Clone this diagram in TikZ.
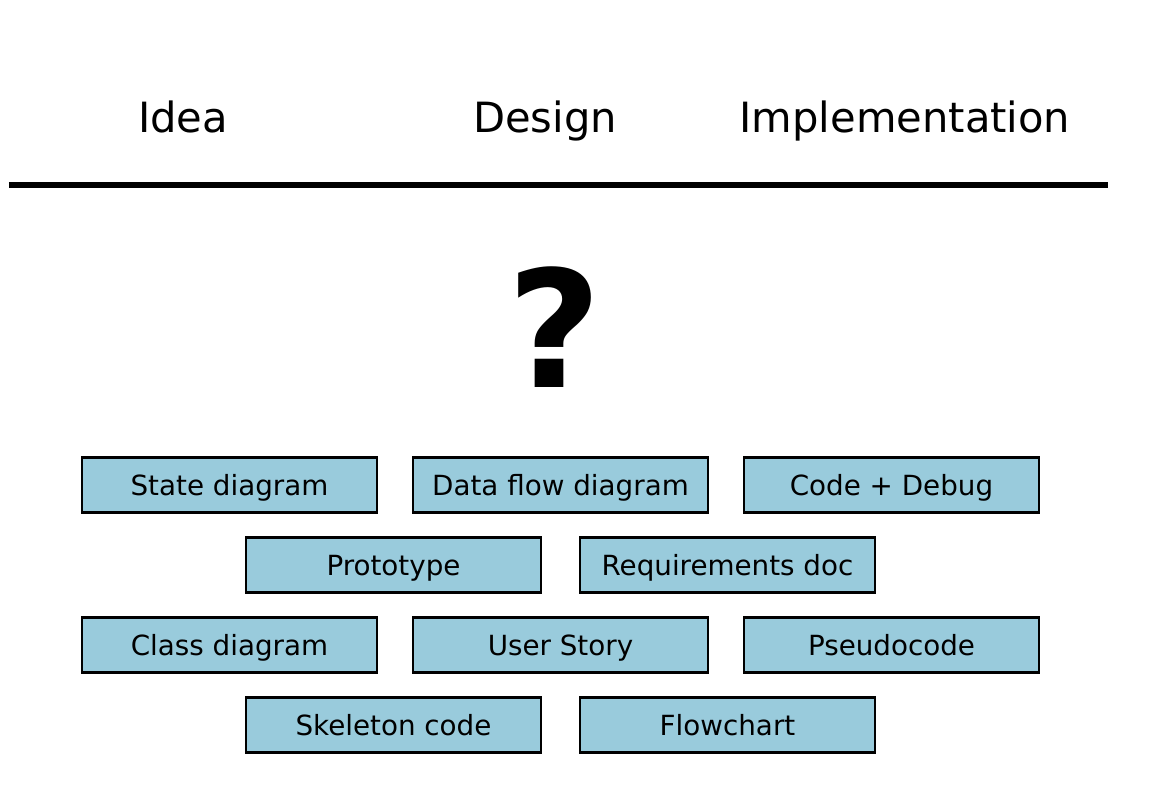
\documentclass[tikz,border=0pt]{standalone}
\usepackage{fontspec}
\setmainfont{DejaVu Sans}

\begin{document}
\begin{tikzpicture}[
    stage/.style={anchor=base, font=\fontsize{23.7}{28}\selectfont},
    tool/.style={draw=black, line width=1.2pt, fill=toolblue, minimum width=5.9cm,
        minimum height=1.1cm, inner sep=0pt, text height=11.6pt, text depth=0pt,
        font=\fontsize{15.8}{19}\selectfont}]
	\definecolor{toolblue}{HTML}{99CBDC}
	\useasboundingbox (0,0) rectangle (23,16.16);
	\node[stage] (idea) at (3.66,13.5) {Idea};
	\node[stage] (design) at (10.9,13.5) {Design};
	\node[stage] (impl) at (18.1,13.5) {Implementation};
	\coordinate (lineL) at (0.18,12.46);
	\coordinate (lineR) at (22.16,12.46);
	\draw[line width=3.4pt] (lineL) -- (lineR);
	\node[anchor=base, inner sep=0pt, font=\fontsize{92.6}{110}\selectfont\bfseries] (ask) at (11.1,8.4) {?};
	\node[tool] (state) at (4.59,6.46) {State diagram};
	\node[tool] (dataflow) at (11.21,6.46) {Data flow diagram};
	\node[tool] (code) at (17.83,6.46) {Code + Debug};
	\node[tool] (proto) at (7.87,4.86) {Prototype};
	\node[tool] (reqs) at (14.55,4.86) {Requirements doc};
	\node[tool] (class) at (4.59,3.26) {Class diagram};
	\node[tool] (story) at (11.21,3.26) {User Story};
	\node[tool] (pseudo) at (17.83,3.26) {Pseudocode};
	\node[tool] (skeleton) at (7.87,1.66) {Skeleton code};
	\node[tool] (flow) at (14.55,1.66) {Flowchart};
\end{tikzpicture}
\end{document}
